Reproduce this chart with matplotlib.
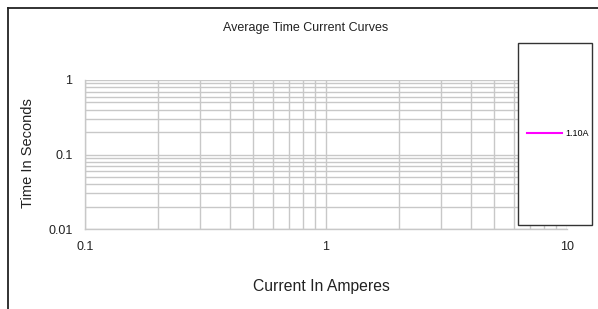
import matplotlib.pyplot as plt
from matplotlib.lines import Line2D
from matplotlib.patches import Rectangle

plt.rcParams['font.family'] = ['Liberation Sans', 'DejaVu Sans']

# data: the single curve has no points inside the plotted range
series_label = '1.10A'
series_color = '#ff00ff'
current_amps = []
time_seconds = []

x_ticks = [0.1, 1, 10]
x_labels = ['0.1', '1', '10']
y_ticks = [0.01, 0.1, 1]
y_labels = ['0.01', '0.1', '1']

W, H = 598, 309
fig = plt.figure(figsize=(W / 100, H / 100), dpi=100)

def fx(px):
    return px / W

def fy(py):
    return 1 - py / H

# outer chart frame (top and left edges only visible)
fig.add_artist(Line2D([fx(8), 1], [fy(8), fy(8)], color='#222222', lw=1.3))
fig.add_artist(Line2D([fx(8), fx(8)], [fy(8), 0], color='#222222', lw=1.3))

ax = fig.add_axes([fx(85), fy(229), fx(567) - fx(85), fy(80) - fy(229)])
ax.set_xscale('log')
ax.set_yscale('log')
ax.set_xlim(x_ticks[0], x_ticks[-1])
ax.set_ylim(y_ticks[0], y_ticks[-1])

line, = ax.plot(current_amps, time_seconds, color=series_color, lw=1.5, label=series_label)

ax.grid(True, which='both', color='#c8c8c8', lw=1)
ax.set_axisbelow(True)
ax.set_xticks(x_ticks)
ax.set_xticklabels(x_labels)
ax.set_yticks(y_ticks)
ax.set_yticklabels(y_labels)
ax.tick_params(which='both', length=0, labelsize=9, colors='#222222')
ax.tick_params(axis='x', pad=9)
ax.tick_params(axis='y', pad=9)
for s in ['top', 'right']:
    ax.spines[s].set_visible(False)
for s in ['left', 'bottom']:
    ax.spines[s].set_color('#c8c8c8')
    ax.spines[s].set_linewidth(1)

fig.text(fx(306), fy(28), 'Average Time Current Curves', ha='center', va='center', fontsize=9, color='#222222')
fig.text(fx(28), fy(153), 'Time In Seconds', ha='center', va='center', rotation=90, fontsize=10.5, color='#222222')
fig.text(fx(321), fy(287), 'Current In Amperes', ha='center', va='center', fontsize=11.3, color='#222222')

# legend box
fig.add_artist(Rectangle((fx(518), fy(225)), fx(592) - fx(518), fy(43) - fy(225),
                         facecolor='white', edgecolor='#333333', lw=1, zorder=5))
leg = fig.legend(handles=[line], loc='center left', bbox_to_anchor=(fx(527), fy(134)),
                 frameon=False, fontsize=6.5, handlelength=3.9, handletextpad=0.4,
                 borderpad=0, borderaxespad=0)
leg.set_zorder(6)

fig.savefig('out.png', dpi=100)
